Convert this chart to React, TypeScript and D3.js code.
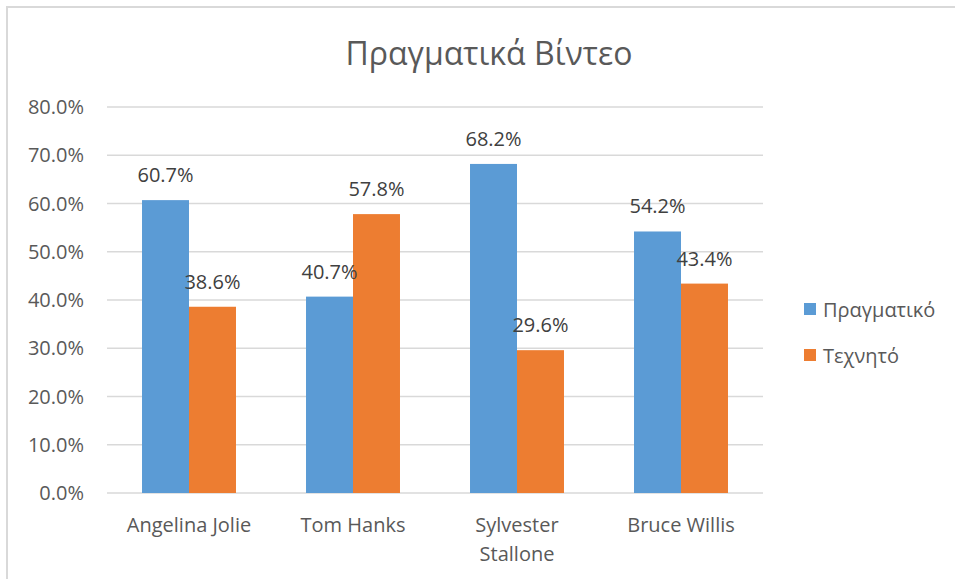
import React, { useRef, useEffect } from 'react';
import * as d3 from 'd3';

const categories = ['Angelina Jolie', 'Tom Hanks', 'Sylvester Stallone', 'Bruce Willis'];
const seriesNames = ['Πραγματικό', 'Τεχνητό'];
const real = [60.7, 40.7, 68.2, 54.2];
const fake = [38.6, 57.8, 29.6, 43.4];
const yTicks = [0, 10, 20, 30, 40, 50, 60, 70, 80];
const title = 'Πραγματικά Βίντεο';

const colors = ['#5B9BD5', '#ED7D31'];
const textColor = '#595959';
const font = '"Open Sans", sans-serif';

const App = () => {
    const ref = useRef(null);
    const width = 955;
    const height = 579;
    const margin = { left: 107, right: 192, top: 107, bottom: 86 };

    useEffect(() => {
        if (!ref.current) return;
        const svg = d3.select(ref.current);
        svg.selectAll('*').remove();

        /* chart frame */
        svg.append('rect')
            .attr('x', 7).attr('y', 7)
            .attr('width', width).attr('height', height)
            .attr('fill', 'white')
            .attr('stroke', '#d9d9d9').attr('stroke-width', 2);

        const x0 = d3.scaleBand()
            .domain(categories)
            .range([margin.left, width - margin.right])
            .paddingInner(0.427)
            .paddingOuter(0.2135);
        const x1 = d3.scaleBand()
            .domain(seriesNames)
            .range([0, x0.bandwidth()]);
        const y = d3.scaleLinear()
            .domain([0, 80])
            .range([height - margin.bottom, margin.top]);

        /* gridlines */
        svg.append('g').selectAll('line').data(yTicks).enter()
            .append('line')
            .attr('x1', margin.left).attr('x2', width - margin.right)
            .attr('y1', d => y(d)).attr('y2', d => y(d))
            .attr('stroke', '#d9d9d9').attr('stroke-width', 1.5);

        /* y labels */
        svg.append('g').selectAll('text').data(yTicks).enter()
            .append('text')
            .attr('x', 84).attr('y', d => y(d) + 7)
            .attr('text-anchor', 'end')
            .attr('font-family', font).attr('font-size', 20)
            .attr('fill', textColor)
            .text(d => d.toFixed(1) + '%');

        const rows = categories.map((c, i) => ({ c, vals: [real[i], fake[i]] }));
        const groups = svg.append('g').selectAll('g').data(rows).enter()
            .append('g')
            .attr('transform', d => 'translate(' + x0(d.c) + ',0)');

        groups.selectAll('rect')
            .data(d => d.vals.map((v, j) => ({ v, s: seriesNames[j], j })))
            .enter().append('rect')
            .attr('x', d => x1(d.s))
            .attr('width', x1.bandwidth())
            .attr('y', d => y(d.v))
            .attr('height', d => y(0) - y(d.v))
            .attr('fill', d => colors[d.j]);

        groups.selectAll('text.val')
            .data(d => d.vals.map((v, j) => ({ v, s: seriesNames[j], j })))
            .enter().append('text')
            .attr('class', 'val')
            .attr('x', d => x1(d.s) + x1.bandwidth() / 2)
            .attr('y', d => y(d.v) - 18)
            .attr('text-anchor', 'middle')
            .attr('font-family', font).attr('font-size', 20)
            .attr('fill', '#404040')
            .text(d => d.v.toFixed(1) + '%');

        /* category labels, wrapped */
        const cat = svg.append('g').selectAll('text').data(categories).enter()
            .append('text')
            .attr('text-anchor', 'middle')
            .attr('font-family', font).attr('font-size', 20)
            .attr('fill', textColor)
            .attr('x', d => x0(d) + x0.bandwidth() / 2)
            .attr('y', height - margin.bottom + 39);
        cat.each(function (d) {
            const words = d === 'Sylvester Stallone' ? d.split(' ') : [d];
            const t = d3.select(this);
            words.forEach((w, k) => {
                t.append('tspan')
                    .attr('x', x0(d) + x0.bandwidth() / 2)
                    .attr('dy', k === 0 ? 0 : 29)
                    .text(w);
            });
        });

        /* title */
        svg.append('text')
            .attr('x', 489).attr('y', 65)
            .attr('text-anchor', 'middle')
            .attr('font-family', font).attr('font-size', 32)
            .attr('fill', textColor)
            .text(title);

        /* legend */
        const leg = svg.append('g').selectAll('g').data(seriesNames).enter()
            .append('g')
            .attr('transform', (d, i) => 'translate(804,' + (303 + i * 46) + ')');
        leg.append('rect')
            .attr('width', 12).attr('height', 12)
            .attr('fill', (d, i) => colors[i]);
        leg.append('text')
            .attr('x', 19).attr('y', 14)
            .attr('font-family', font).attr('font-size', 20)
            .attr('fill', textColor)
            .text(d => d);
    }, []);

    return (
        <svg
            ref={ref}
            width={width}
            height={height}
            style={{ position: 'absolute', left: 0, top: 0 }}
        />
    );
};

export default App;
